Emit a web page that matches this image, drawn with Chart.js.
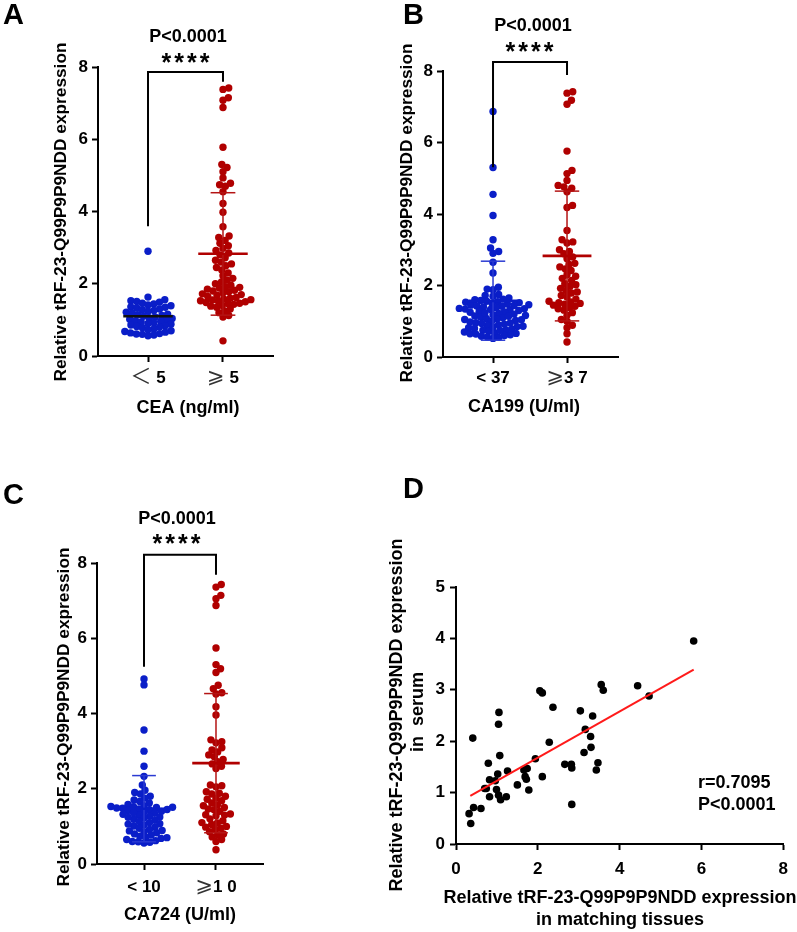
<!DOCTYPE html>
<html><head><meta charset="utf-8">
<script src="https://cdn.jsdelivr.net/npm/chart.js@4.4.0/dist/chart.umd.min.js"></script>
<style>
html,body{margin:0;padding:0;background:#fff;}
#wrap{position:relative;width:797px;height:932px;overflow:hidden;}
canvas{position:absolute;left:0;top:0;}
</style></head><body><div id="wrap">
<canvas id="cA" width="797" height="932"></canvas>
<canvas id="cB" width="797" height="932"></canvas>
<canvas id="cC" width="797" height="932"></canvas>
<canvas id="cD" width="797" height="932"></canvas>
</div>
<script>
// ---------------- DATA ----------------
// Panel A: CEA
const catsA = ['＜ 5', '⩾ 5'];
const lowA = [2.90, 1.63, 1.56, 1.53, 1.51, 1.49, 1.46, 1.44, 1.41, 1.39, 1.36, 1.35, 1.33, 1.30, 1.28, 1.26, 1.24, 1.21, 1.19, 1.16, 1.14, 1.12, 1.10, 1.08, 1.06, 1.04, 1.02, 1.00, 0.98, 0.96, 0.94, 0.92, 0.90, 0.88, 0.86, 0.84, 0.82, 0.80, 0.78, 0.75, 0.73, 0.70, 0.68, 0.66, 0.64, 0.62, 0.60, 0.58, 0.56, 0.61];
const highA = [7.42, 7.38, 7.15, 7.08, 6.88, 5.78, 5.30, 5.22, 5.10, 4.93, 4.78, 4.74, 4.70, 4.55, 4.22, 3.98, 3.58, 3.32, 3.28, 3.20, 3.12, 3.05, 2.98, 2.92, 2.85, 2.80, 2.72, 2.65, 2.60, 2.55, 2.50, 2.45, 2.38, 2.30, 2.22, 2.15, 2.10, 2.05, 2.00, 1.96, 1.92, 1.90, 1.88, 1.85, 1.82, 1.80, 1.78, 1.75, 1.72, 1.70, 1.68, 1.65, 1.62, 1.60, 1.58, 1.56, 1.55, 1.53, 1.52, 1.50, 1.48, 1.46, 1.45, 1.43, 1.40, 1.38, 1.35, 1.30, 1.25, 1.20, 1.12, 1.08, 0.42];
const meanA = [1.10, 2.83];
const sdUpA = [null, 4.52];
const sdLoA = [null, 1.13];
const bracketA = [3.59, 7.86, 7.59];

// Panel B: CA199
const catsB = ['< 37', '⩾3 7'];
const lowB = [6.87, 5.30, 4.55, 3.96, 3.28, 3.05, 2.95, 2.90, 2.65, 2.35, 1.95, 1.90, 1.88, 1.75, 1.72, 1.70, 1.65, 1.62, 1.60, 1.58, 1.56, 1.55, 1.53, 1.52, 1.50, 1.48, 1.46, 1.45, 1.43, 1.42, 1.40, 1.38, 1.36, 1.35, 1.33, 1.32, 1.30, 1.28, 1.26, 1.25, 1.22, 1.20, 1.18, 1.16, 1.15, 1.12, 1.10, 1.08, 1.06, 1.05, 1.02, 1.00, 0.98, 0.96, 0.95, 0.92, 0.90, 0.88, 0.86, 0.85, 0.82, 0.80, 0.78, 0.76, 0.75, 0.72, 0.70, 0.68, 0.66, 0.65, 0.62, 0.60, 0.58, 0.56, 0.55, 0.52, 1.44, 1.34, 1.24, 1.14, 1.04, 0.94, 0.84, 0.74, 0.64];
const highB = [7.42, 7.38, 7.18, 7.07, 5.76, 5.22, 5.13, 4.94, 4.80, 4.76, 4.72, 4.62, 4.24, 4.18, 3.54, 3.28, 3.22, 3.19, 3.00, 2.95, 2.89, 2.80, 2.75, 2.62, 2.59, 2.52, 2.46, 2.42, 2.30, 2.26, 2.20, 2.14, 2.05, 2.02, 1.98, 1.92, 1.86, 1.82, 1.79, 1.72, 1.68, 1.62, 1.56, 1.54, 1.52, 1.50, 1.48, 1.45, 1.42, 1.38, 1.35, 1.31, 1.24, 1.17, 1.05, 1.00, 0.89, 0.82, 0.65, 0.42];
const meanB = [1.57, 2.83];
const sdUpB = [2.68, 4.64];
const sdLoB = [0.47, 1.01];
const bracketB = [5.31, 8.25, 7.89];

// Panel C: CA724
const catsC = ['< 10', '⩾1 0'];
const lowC = [4.92, 4.76, 3.56, 3.00, 2.60, 2.33, 2.10, 1.96, 1.90, 1.86, 1.80, 1.75, 1.70, 1.66, 1.62, 1.58, 1.55, 1.53, 1.52, 1.50, 1.48, 1.46, 1.44, 1.42, 1.40, 1.38, 1.35, 1.32, 1.30, 1.27, 1.25, 1.22, 1.19, 1.16, 1.13, 1.10, 1.07, 1.04, 1.01, 0.98, 0.95, 0.92, 0.89, 0.86, 0.83, 0.80, 0.77, 0.74, 0.71, 0.68, 0.65, 0.62, 0.60, 0.58, 0.56, 1.51, 1.49, 1.45, 1.36, 1.24, 1.06, 0.88, 0.70, 0.59];
const highC = [7.43, 7.36, 7.14, 7.05, 6.87, 5.74, 5.30, 5.19, 5.09, 4.75, 4.66, 4.55, 4.52, 4.18, 3.96, 3.30, 3.25, 3.22, 3.09, 3.03, 2.98, 2.90, 2.85, 2.78, 2.72, 2.66, 2.60, 2.54, 2.10, 2.08, 2.05, 1.92, 1.88, 1.86, 1.80, 1.75, 1.72, 1.68, 1.62, 1.57, 1.55, 1.50, 1.46, 1.44, 1.40, 1.33, 1.31, 1.30, 1.28, 1.20, 1.15, 1.10, 1.09, 1.05, 1.00, 0.98, 0.95, 0.92, 0.86, 0.80, 0.78, 0.72, 0.65, 0.60, 0.38];
const meanC = [1.47, 2.68];
const sdUpC = [2.35, 4.53];
const sdLoC = [0.59, 0.83];
const bracketC = [5.24, 8.22, 7.69];

const yTicksABC = [0, 2, 4, 6, 8];

// Panel D: correlation
const xD = [5.81, 4.44, 4.72, 3.55, 3.60, 2.05, 2.11, 2.37, 3.04, 3.34, 3.16, 3.29, 3.30, 3.13, 3.47, 3.43, 2.28, 1.94, 2.11, 2.66, 2.82, 2.83, 2.83, 1.05, 1.04, 1.07, 0.41, 0.79, 1.02, 0.82, 0.96, 1.26, 0.70, 0.74, 0.99, 1.04, 1.09, 1.23, 0.82, 1.50, 1.66, 1.74, 1.69, 1.72, 1.78, 0.43, 0.61, 0.32, 0.36];
const yD = [3.95, 3.08, 2.88, 3.10, 2.99, 2.98, 2.94, 2.66, 2.59, 2.49, 2.23, 2.09, 1.88, 1.78, 1.58, 1.44, 1.98, 1.66, 1.31, 1.55, 1.55, 1.48, 0.77, 2.56, 2.33, 1.72, 2.06, 1.57, 1.36, 1.25, 1.23, 1.42, 1.08, 1.08, 1.06, 0.95, 0.86, 0.92, 0.92, 1.15, 1.44, 1.47, 1.31, 1.26, 1.05, 0.71, 0.69, 0.59, 0.40];
const fitRangeD = [0.35, 5.81];
const fitSlopeD = 0.4496;
const fitInterceptD = 0.778;
const xTicksD = [0, 2, 4, 6, 8];
const yTicksD = [0, 1, 2, 3, 4, 5];
const statTextD = ['r=0.7095', 'P<0.0001'];
const pText = 'P<0.0001';
const starText = '****';
const yTitleABC = 'Relative tRF-23-Q99P9P9NDD expression';
const yTitleD = ['Relative tRF-23-Q99P9P9NDD expression', 'in  serum'];
const xTitleD = ['Relative tRF-23-Q99P9P9NDD expression', 'in matching tissues'];

// ---------------- HELPERS ----------------
const FONT = '"Liberation Sans", Arial, "DejaVu Sans", "Noto Sans CJK SC", sans-serif';
const W = 797, H = 932;
const BLUE = '#0a1ec8', RED = '#b00000';
const THIN = '＜⩾';

function swarmOffsets(yp, d) {
  const idx = yp.map((_, i) => i).sort((a, b) => yp[b] - yp[a]);
  const placed = [], out = new Array(yp.length);
  idx.forEach(i => {
    const y = yp[i];
    const near = placed.filter(p => Math.abs(p.y - y) < d);
    const cands = [0];
    near.forEach(p => {
      const dx = Math.sqrt(d * d - (p.y - y) * (p.y - y));
      cands.push(p.x + dx + 0.01, p.x - dx - 0.01);
    });
    cands.sort((a, b) => Math.abs(a) - Math.abs(b));
    let x = 0;
    for (const c of cands) {
      if (near.every(p => (p.x - c) ** 2 + (p.y - y) ** 2 >= d * d - 0.1)) { x = c; break; }
    }
    placed.push({x, y}); out[i] = x;
  });
  return out;
}

function drawText(ctx, t) {
  ctx.save();
  ctx.font = `${t.w || 'bold'} ${t.s}px ${FONT}`;
  ctx.fillStyle = t.c || '#000';
  ctx.textAlign = t.a || 'center';
  ctx.textBaseline = 'middle';
  if (t.ls) { try { ctx.letterSpacing = t.ls; } catch (e) {} }
  ctx.translate(t.x, t.y);
  if (t.r) ctx.rotate(t.r);
  ctx.fillText(t.t, 0, 0);
  ctx.restore();
}

function drawMixed(ctx, str, cx, cy) {
  const runs = [];
  for (const ch of str) {
    const thin = THIN.includes(ch);
    if (runs.length && runs[runs.length - 1].thin === thin) runs[runs.length - 1].t += ch;
    else runs.push({t: ch, thin});
  }
  const fontOf = r => r.thin ? `normal 21px ${FONT}` : `bold 17px ${FONT}`;
  let total = 0;
  runs.forEach(r => { ctx.font = fontOf(r); r.w = ctx.measureText(r.t).width; total += r.w; });
  let x = cx - total / 2;
  ctx.save();
  ctx.textBaseline = 'middle';
  ctx.textAlign = 'left';
  runs.forEach(r => {
    ctx.font = fontOf(r);
    ctx.fillStyle = r.thin ? '#333' : '#000';
    ctx.fillText(r.t, x, cy + (r.thin ? -1 : 0));
    x += r.w;
  });
  ctx.restore();
}

function axisCommon(extra) {
  return Object.assign({
    grid: {drawOnChartArea: false, drawTicks: true, tickLength: 6, tickWidth: 2, tickColor: '#000'},
    border: {display: true, color: '#000', width: 2},
  }, extra);
}

function lineDS(points, color, width, order, clip) {
  return {data: points, showLine: true, borderColor: color, borderWidth: width, pointRadius: 0,
          pointHoverRadius: 0, fill: false, order: order, clip: clip === false ? false : undefined, tension: 0};
}

function groupChart(id, area, xr, cats, groups, colors, means, meanColors, sdUp, sdLo, sdColors, bracket, texts, labelY) {
  const datasets = [];
  groups.forEach((vals, g) => {
    datasets.push({data: vals.map(v => ({x: g, y: v})), showLine: false, pointRadius: 3.7, pointHoverRadius: 3.7,
      pointBackgroundColor: colors[g], pointBorderWidth: 0, order: 3});
  });
  const mw = 0.33, cw = 0.165;
  means.forEach((m, g) => {
    datasets.push(lineDS([{x: g - mw, y: m}, {x: g + mw, y: m}], meanColors[g], 2.6, 1));
    if (sdUp[g] != null) {
      datasets.push(lineDS([{x: g, y: sdLo[g]}, {x: g, y: sdUp[g]}], sdColors[g], 1.5, 2));
      datasets.push(lineDS([{x: g - cw, y: sdUp[g]}, {x: g + cw, y: sdUp[g]}], sdColors[g], 1.5, 2));
      datasets.push(lineDS([{x: g - cw, y: sdLo[g]}, {x: g + cw, y: sdLo[g]}], sdColors[g], 1.5, 2));
    }
  });
  datasets.push(lineDS([{x: 0, y: bracket[0]}, {x: 0, y: bracket[1]}, {x: 1, y: bracket[1]}, {x: 1, y: bracket[2]}], '#000', 2, 0, false));

  const chart = new Chart(document.getElementById(id), {
    type: 'scatter',
    data: {datasets},
    options: {
      responsive: false, animation: false, events: [],
      layout: {padding: {left: 0, top: area.t, right: W - area.r, bottom: 0}},
      plugins: {legend: {display: false}, tooltip: {enabled: false}},
      scales: {
        x: axisCommon({type: 'linear', min: xr[0], max: xr[1],
          afterBuildTicks: ax => { ax.ticks = [{value: 0}, {value: 1}]; },
          ticks: {display: false},
          afterFit: s => { s.height = H - area.b; }}),
        y: axisCommon({type: 'linear', min: 0, max: 8,
          afterBuildTicks: ax => { ax.ticks = yTicksABC.map(v => ({value: v})); },
          ticks: {color: '#000', padding: 4, font: {family: FONT, weight: 'bold', size: 17}},
          afterFit: s => { s.width = area.l; }})
      }
    },
    plugins: [{id: 'txt', afterDraw(ch) {
      const ctx = ch.ctx;
      texts.forEach(t => drawText(ctx, t));
      cats.forEach((c, g) => drawMixed(ctx, c, ch.scales.x.getPixelForValue(g), labelY));
    }}]
  });
  // beeswarm layout of points computed from the value positions on the y scale
  const xs = chart.scales.x, ys = chart.scales.y;
  const ppu = xs.getPixelForValue(1) - xs.getPixelForValue(0);
  groups.forEach((vals, g) => {
    const yp = vals.map(v => ys.getPixelForValue(v));
    const off = swarmOffsets(yp, 5.9);
    chart.data.datasets[g].data = vals.map((v, i) => ({x: g + off[i] / ppu, y: v}));
  });
  chart.update('none');
  return chart;
}

const ROT = -Math.PI / 2;

// ---------------- PANEL A ----------------
groupChart('cA', {l: 98, t: 67, r: 273, b: 356}, [-0.667, 1.667], catsA, [lowA, highA], [BLUE, RED],
  meanA, ['#111', RED], sdUpA, sdLoA, ['#111', '#b41414'], bracketA, [
    {t: 'A', x: 3, y: 16, s: 29, a: 'left'},
    {t: pText, x: 188, y: 37, s: 18},
    {t: starText, x: 187, y: 64, s: 25, ls: '3px'},
    {t: yTitleABC, x: 61, y: 212, s: 17.3, r: ROT},
    {t: 'CEA (ng/ml)', x: 188, y: 408, s: 18},
  ], 378);

// ---------------- PANEL B ----------------
groupChart('cB', {l: 443, t: 71, r: 618, b: 357}, [-0.676, 1.689], catsB, [lowB, highB], [BLUE, RED],
  meanB, [BLUE, RED], sdUpB, sdLoB, ['#2a3ad2', '#b41414'], bracketB, [
    {t: 'B', x: 403, y: 16, s: 29, a: 'left'},
    {t: pText, x: 533, y: 26, s: 18},
    {t: starText, x: 531, y: 53, s: 25, ls: '3px'},
    {t: yTitleABC, x: 407, y: 213, s: 17.3, r: ROT},
    {t: 'CA199 (U/ml)', x: 524, y: 407, s: 18},
  ], 378);

// ---------------- PANEL C ----------------
groupChart('cC', {l: 97, t: 563, r: 263, b: 864}, [-0.653, 1.653], catsC, [lowC, highC], [BLUE, RED],
  meanC, [BLUE, RED], sdUpC, sdLoC, ['#2a3ad2', '#b41414'], bracketC, [
    {t: 'C', x: 3, y: 496, s: 29, a: 'left'},
    {t: pText, x: 177, y: 519, s: 18},
    {t: starText, x: 178, y: 545, s: 25, ls: '3px'},
    {t: yTitleABC, x: 64, y: 717, s: 17.3, r: ROT},
    {t: 'CA724 (U/ml)', x: 180, y: 915, s: 18},
  ], 887);

// ---------------- PANEL D ----------------
(function () {
  const area = {l: 456, t: 587, r: 785, b: 844};
  const texts = [
    {t: 'D', x: 403, y: 490, s: 29, a: 'left'},
    {t: yTitleD[0], x: 397, y: 715, s: 18, r: ROT},
    {t: yTitleD[1], x: 418, y: 712, s: 18, r: ROT},
    {t: xTitleD[0], x: 620, y: 898, s: 18},
    {t: xTitleD[1], x: 620, y: 920, s: 18},
    {t: statTextD[0], x: 698, y: 783, s: 18, a: 'left'},
    {t: statTextD[1], x: 698, y: 805, s: 18, a: 'left'},
  ];
  new Chart(document.getElementById('cD'), {
    type: 'scatter',
    data: {datasets: [
      lineDS(fitRangeD.map(x => ({x, y: fitInterceptD + fitSlopeD * x})), '#ff1a1a', 2, 0),
      {data: xD.map((x, i) => ({x, y: yD[i]})), pointRadius: 3.8, pointHoverRadius: 3.8,
       pointBackgroundColor: '#000', pointBorderWidth: 0, showLine: false, order: 1},
    ]},
    options: {
      responsive: false, animation: false, events: [],
      layout: {padding: {left: 0, top: area.t, right: W - area.r, bottom: 0}},
      plugins: {legend: {display: false}, tooltip: {enabled: false}},
      scales: {
        x: axisCommon({type: 'linear', min: 0, max: 8,
          afterBuildTicks: ax => { ax.ticks = xTicksD.map(v => ({value: v})); },
          ticks: {color: '#000', padding: 9, font: {family: FONT, weight: 'bold', size: 17}},
          afterFit: s => { s.height = H - area.b; }}),
        y: axisCommon({type: 'linear', min: 0, max: 5,
          afterBuildTicks: ax => { ax.ticks = yTicksD.map(v => ({value: v})); },
          ticks: {color: '#000', padding: 5, font: {family: FONT, weight: 'bold', size: 17}},
          afterFit: s => { s.width = area.l; }})
      }
    },
    plugins: [{id: 'txt', afterDraw(ch) { texts.forEach(t => drawText(ch.ctx, t)); }}]
  });
})();
</script>
</body></html>
